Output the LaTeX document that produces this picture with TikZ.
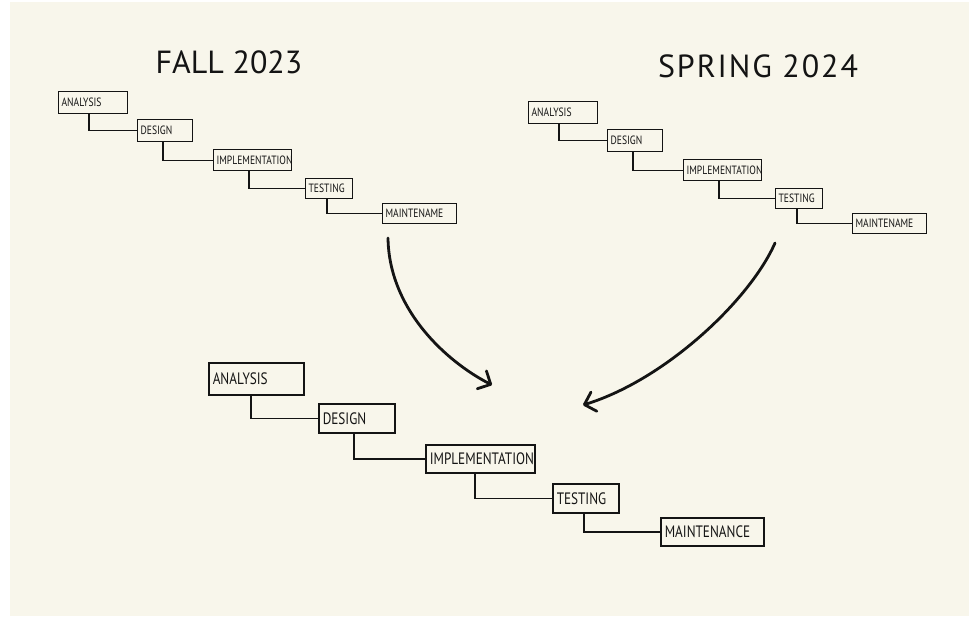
\documentclass[tikz,border=0pt]{standalone}
\usepackage{fontspec}
\usetikzlibrary{arrows.meta}
\newfontfamily\handfont[FakeStretch=0.8]{PT Sans}
\newfontfamily\titlefont{PT Sans}
\newfontfamily\titlefontwide[LetterSpace=6]{PT Sans}
\definecolor{cream}{RGB}{248,246,235}
\definecolor{ink}{RGB}{20,20,20}
\begin{document}
\begin{tikzpicture}[x=1pt,y=-1pt,
  sbox/.style={draw=ink, line width=1.2pt, anchor=north west, inner xsep=3pt, inner ysep=0pt,
    align=left, text=ink, font=\handfont\fontsize{12}{13}\selectfont},
  bbox/.style={draw=ink, line width=1.5pt, anchor=north west, inner xsep=4pt, inner ysep=0pt,
    align=left, text=ink, font=\handfont\fontsize{16.5}{17}\selectfont},
  sline/.style={draw=ink, line width=1.2pt},
  bline/.style={draw=ink, line width=1.5pt},
  bigarrow/.style={draw=ink, line width=2.8pt, line cap=round,
    -{Straight Barb[length=10pt,width=20pt,round]}},
  ttl/.style={text=ink, font=\titlefont\fontsize{32}{34}\selectfont}]
\useasboundingbox (0,0) rectangle (971,616);
\fill[white] (0,0) rectangle (971,616);
\fill[cream] (10,2) rectangle (969,616);

% titles
\node[ttl] (t1) at (229,62) {FALL 2023};
\node[ttl, font=\titlefontwide\fontsize{32}{34}\selectfont] (t2) at (758,66) {SPRING 2024};

% Fall 2023 chain
\node[sbox, minimum height=22pt, text width=63pt] (A1) at (58,91) {ANALYSIS};
\node[sbox, minimum height=22pt, text width=49pt] (D1) at (137,119) {DESIGN};
\node[sbox, minimum height=21pt, text width=72pt] (I1) at (213,149) {IMPLEMENTATION};
\node[sbox, minimum height=20pt, text width=41pt] (T1) at (305,178) {TESTING};
\node[sbox, minimum height=20pt, text width=68pt] (M1) at (382,203) {MAINTENAME};
\draw[sline] ([xshift=31pt]A1.south west) |- (D1.west);
\draw[sline] ([xshift=26pt]D1.south west) |- (I1.west);
\draw[sline] ([xshift=36pt]I1.south west) |- (T1.west);
\draw[sline] ([xshift=22pt]T1.south west) |- (M1.west);

% Spring 2024 chain
\node[sbox, minimum height=22pt, text width=63pt] (A2) at (528,101) {ANALYSIS};
\node[sbox, minimum height=22pt, text width=49pt] (D2) at (607,129) {DESIGN};
\node[sbox, minimum height=21pt, text width=72pt] (I2) at (683,159) {IMPLEMENTATION};
\node[sbox, minimum height=20pt, text width=41pt] (T2) at (775,188) {TESTING};
\node[sbox, minimum height=20pt, text width=68pt] (M2) at (852,213) {MAINTENAME};
\draw[sline] ([xshift=31pt]A2.south west) |- (D2.west);
\draw[sline] ([xshift=26pt]D2.south west) |- (I2.west);
\draw[sline] ([xshift=36pt]I2.south west) |- (T2.west);
\draw[sline] ([xshift=22pt]T2.south west) |- (M2.west);

% Combined chain
\node[bbox, minimum height=32pt, text width=87pt] (A3) at (208,362) {ANALYSIS};
\node[bbox, minimum height=29pt, text width=68pt] (D3) at (318,403) {DESIGN};
\node[bbox, minimum height=28pt, text width=101pt] (I3) at (425,444) {IMPLEMENTATION};
\node[bbox, minimum height=29pt, text width=58pt] (T3) at (552,483) {TESTING};
\node[bbox, minimum height=28pt, text width=95pt] (M3) at (660,517) {MAINTENANCE};
\draw[bline] ([xshift=43pt]A3.south west) |- (D3.west);
\draw[bline] ([xshift=36pt]D3.south west) |- (I3.west);
\draw[bline] ([xshift=50pt]I3.south west) |- (T3.west);
\draw[bline] ([xshift=32pt]T3.south west) |- (M3.west);

% arrows
\coordinate (s1) at (388,238);
\coordinate (e1) at (492,385);
\coordinate (s2) at (775,243);
\coordinate (e2) at (583,405);
\draw[bigarrow] (s1) .. controls (389,310) and (447,362) .. (e1);
\draw[bigarrow] (s2) .. controls (750,300) and (665,380) .. (e2);
\end{tikzpicture}
\end{document}
